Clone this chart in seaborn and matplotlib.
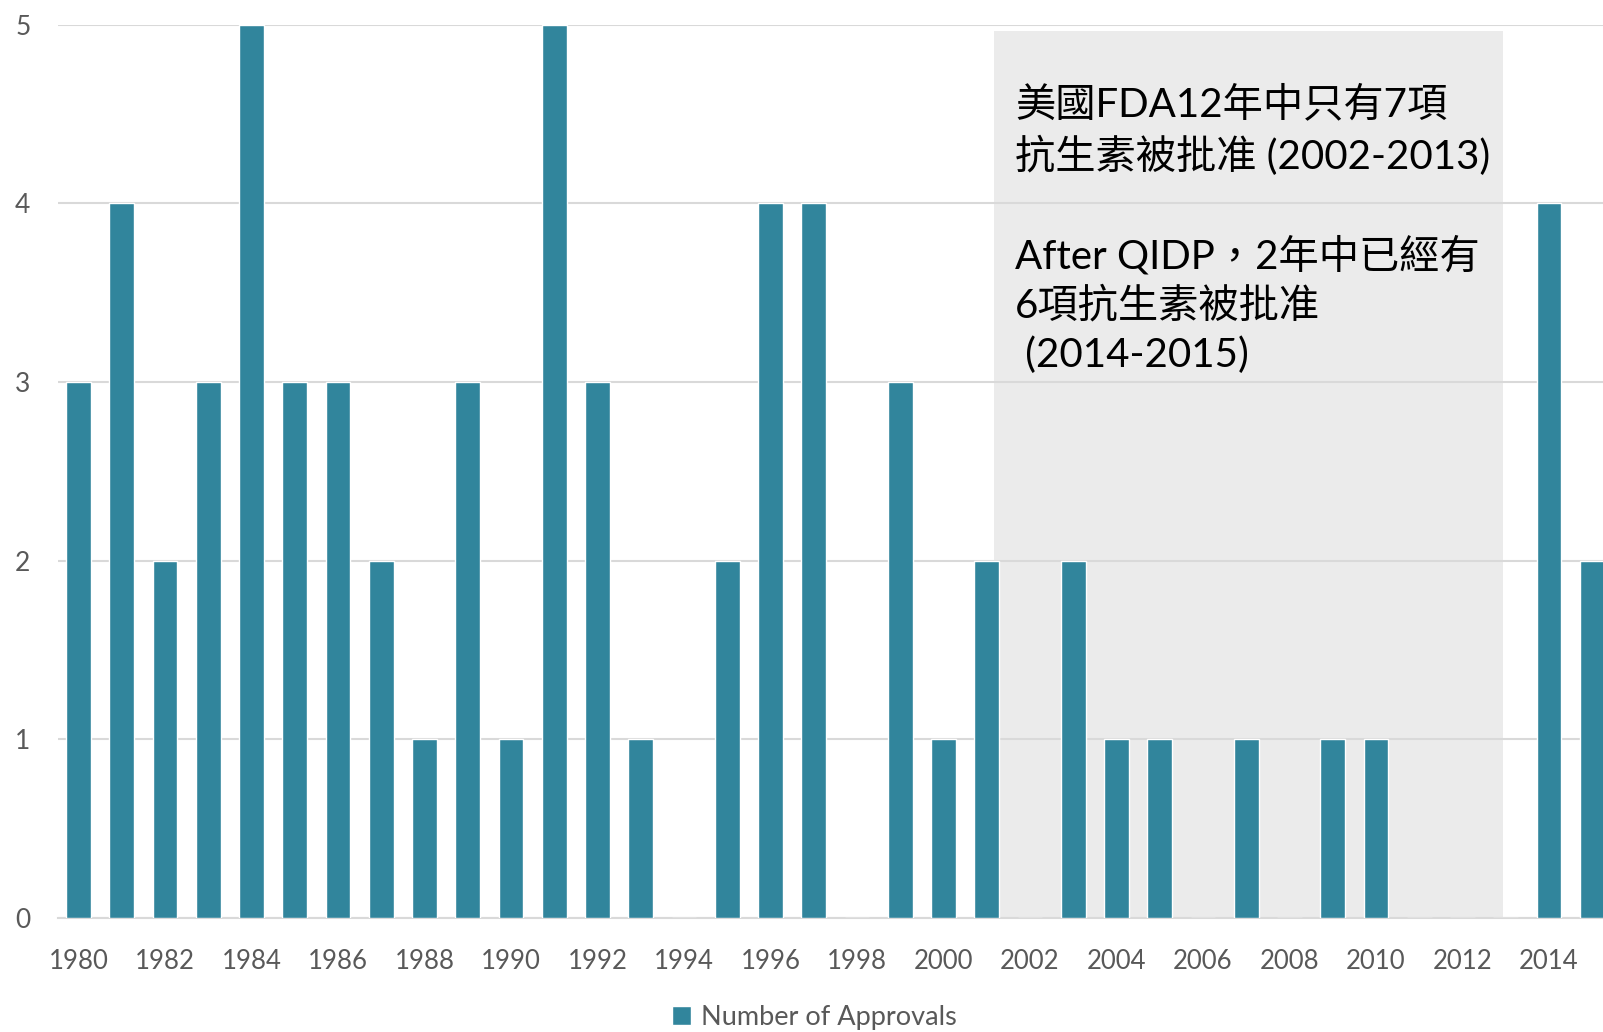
import matplotlib
matplotlib.use("Agg")
import pandas as pd
import seaborn as sns
import matplotlib.pyplot as plt
from matplotlib.patches import Rectangle

years = list(range(1980, 2016))
approvals = [3, 4, 2, 3, 5, 3, 3, 2, 1, 3, 1, 5, 3, 1, 0, 2, 4, 4, 0, 3,
             1, 2, 0, 2, 1, 1, 0, 1, 0, 1, 1, 0, 0, 0, 4, 2]
tick_years = years[::2]
note = ("美國FDA12年中只有7項\n抗生素被批准 (2002-2013)\n\n"
        "After QIDP，2年中已經有\n6項抗生素被批准\n (2014-2015)")

df = pd.DataFrame({"year": years, "approvals": approvals})

sns.set_theme(style="white")
plt.rcParams["font.family"] = ["Lato", "Noto Sans CJK TC", "DejaVu Sans"]

fig = plt.figure(figsize=(16.03, 10.32), dpi=100)
ax = fig.add_axes([0.0363, 0.1105, 0.9637, 0.8657])

# grey box behind the 2002-2013 gap
ax.add_patch(Rectangle((21.16, 0), 11.77, 4.965, facecolor="#ebebeb",
                       edgecolor="none", zorder=0.5))

sns.barplot(data=df, x="year", y="approvals", color="#31859c", width=0.57,
            saturation=1, label="Number of Approvals", ax=ax)
for bar in ax.patches[1:]:
    bar.set_zorder(2)

ax.set_xlim(-0.47, 35.25)
ax.set_ylim(0, 5)
ax.set_yticks(range(6))
ax.set_xticks([years.index(y) for y in tick_years])
ax.set_xticklabels([str(y) for y in tick_years])
ax.yaxis.grid(True, color="#d9d9d9", linewidth=1.5)
for line in ax.get_ygridlines():
    line.set_zorder(1)
for s in ["top", "right", "left"]:
    ax.spines[s].set_visible(False)
ax.spines["bottom"].set_color("#d9d9d9")
ax.spines["bottom"].set_linewidth(1.5)
ax.spines["bottom"].set_zorder(1)
ax.tick_params(axis="x", length=0, pad=22, labelsize=18.5, colors="#595959")
ax.tick_params(axis="y", length=0, pad=20, labelsize=19, colors="#595959")
ax.set_xlabel("")
ax.set_ylabel("")

ax.text(21.66, 4.66, note, fontsize=29, color="black", va="top", ha="left",
        linespacing=1.37, zorder=3)

handles, labels = ax.get_legend_handles_labels()
if ax.legend_:
    ax.legend_.remove()
fig.legend(handles, labels, loc="center", bbox_to_anchor=(0.508, 0.0145),
           frameon=False, fontsize=19.5, labelcolor="#595959",
           handlelength=0.7, handleheight=0.7, handletextpad=0.4)

plt.savefig("out.png", dpi=100)
plt.close()
